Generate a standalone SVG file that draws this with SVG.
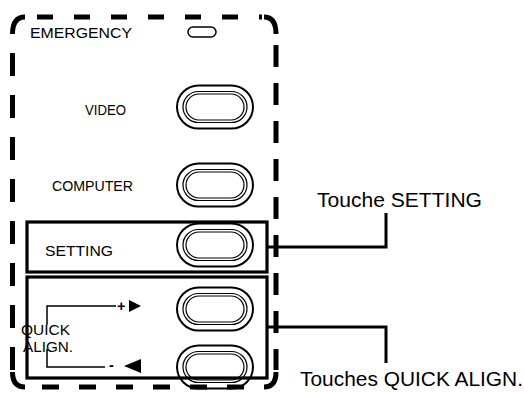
<svg xmlns="http://www.w3.org/2000/svg" width="524" height="393" viewBox="0 0 524 393">
<defs>
<style>
.lbl{font-family:"Liberation Sans",Arial,sans-serif;font-size:14.5px;fill:#000}
.big{font-family:"Liberation Sans",Arial,sans-serif;font-size:20.5px;fill:#000}
.brd{fill:none;stroke:#000;stroke-width:5}
.side{fill:none;stroke:#000;stroke-width:5}
.box{fill:none;stroke:#000;stroke-width:3.2}
.conn{fill:none;stroke:#000;stroke-width:3}
.thin{fill:none;stroke:#000;stroke-width:1.5}
.b1{fill:none;stroke:#000;stroke-width:2}
.b2{fill:none;stroke:#000;stroke-width:1.2}
</style>
<g id="btn">
<rect x="-38" y="-21.5" width="76" height="43" rx="21.5" class="b1"/>
<rect x="-32" y="-15.5" width="64" height="31" rx="15.5" class="b2"/>
<rect x="-29" y="-13" width="58" height="26" rx="13" class="b2"/>
</g>
</defs>
<rect width="524" height="393" fill="#fff"/>

<g id="border">
<path class="brd" d="M12.5 34 Q12.5 17 25 17"/>
<path class="brd" d="M264 17 Q276 17 276 34"/>
<path class="brd" d="M12.5 372 Q12.5 387 25 387"/>
<path class="brd" d="M264 387 Q276 387 276 372"/>
<path class="side" d="M37 17 H262" stroke-dasharray="16 21"/>
<path class="side" d="M42 387 H262" stroke-dasharray="17 20"/>
<path class="side" d="M12.5 53 V370" stroke-dasharray="23 19"/>
<path class="side" d="M276 45 V370" stroke-dasharray="22 16"/>
</g>

<g id="emergency">
<text class="lbl" x="30" y="38" textLength="102" lengthAdjust="spacingAndGlyphs">EMERGENCY</text>
<rect x="188" y="27" width="28" height="10" rx="5" class="thin"/>
</g>

<g id="video">
<text class="lbl" x="85" y="115" textLength="41" lengthAdjust="spacingAndGlyphs">VIDEO</text>
<use href="#btn" x="215" y="107"/>
</g>

<g id="computer">
<text class="lbl" x="52" y="191" textLength="81" lengthAdjust="spacingAndGlyphs">COMPUTER</text>
<use href="#btn" x="215" y="185"/>
</g>

<g id="setting">
<rect x="27" y="222" width="240" height="50" class="box"/>
<text class="lbl" x="45" y="256" textLength="68" lengthAdjust="spacingAndGlyphs">SETTING</text>
<use href="#btn" x="215" y="245"/>
</g>

<g id="quick-align">
<rect x="27" y="277" width="240" height="101" class="box"/>
<use href="#btn" x="215" y="309"/>
<use href="#btn" x="215" y="367"/>
<path class="thin" d="M47 325 V306 H116"/>
<text class="lbl" x="117" y="311" font-weight="bold">+</text>
<polygon points="129,300 141,306 129,312" fill="#000"/>
<path class="thin" d="M47 349 V367 H105"/>
<text class="lbl" x="109" y="370" font-weight="bold">-</text>
<polygon points="141,359 124,366 141,373" fill="#000"/>
<text class="lbl" x="21" y="335" textLength="49" lengthAdjust="spacingAndGlyphs">QUICK</text>
<text class="lbl" x="23" y="352" textLength="50" lengthAdjust="spacingAndGlyphs">ALIGN.</text>
</g>

<g id="connectors">
<path class="conn" d="M267 247 H386 V213"/>
<path class="conn" d="M267 327 H386 V363"/>
</g>

<g id="callouts">
<text class="big" x="317" y="207" textLength="165" lengthAdjust="spacingAndGlyphs">Touche SETTING</text>
<text class="big" x="300" y="386" textLength="223" lengthAdjust="spacingAndGlyphs">Touches QUICK ALIGN.</text>
</g>
</svg>
